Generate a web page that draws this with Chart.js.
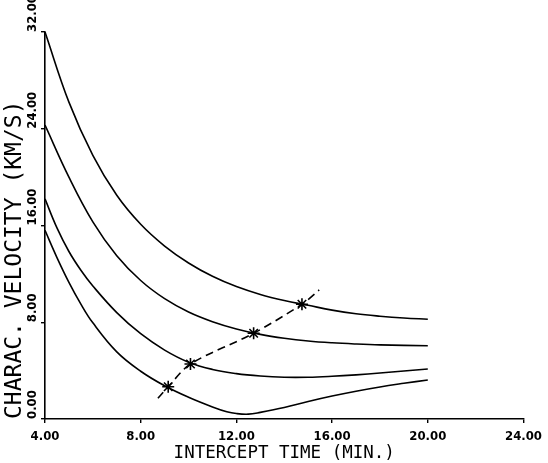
<!DOCTYPE html>
<html>
<head>
<meta charset="utf-8">
<script src="https://cdn.jsdelivr.net/npm/chart.js@4"></script>
<style>
  html, body { margin: 0; padding: 0; background: #fff; }
  #wrap { width: 548px; height: 463px; }
</style>
</head>
<body>
<div id="wrap"><canvas id="chart1"></canvas></div>
<script>
// characteristic velocity vs intercept time, four trajectories
const curve1 = [
    {x: 4, y: 32.0}, {x: 5, y: 26.2}, {x: 6, y: 21.8}, {x: 7, y: 18.5},
    {x: 8, y: 16.1}, {x: 9, y: 14.3}, {x: 10, y: 12.9}, {x: 11, y: 11.8},
    {x: 12, y: 10.95}, {x: 13, y: 10.3}, {x: 14, y: 9.8}, {x: 15, y: 9.4},
    {x: 16, y: 9.0}, {x: 17, y: 8.7}, {x: 18, y: 8.5}, {x: 19, y: 8.35},
    {x: 20, y: 8.25},
];
const curve2 = [
    {x: 4, y: 24.3}, {x: 5, y: 20.0}, {x: 6, y: 16.3}, {x: 7, y: 13.5},
    {x: 8, y: 11.45}, {x: 9, y: 9.95}, {x: 10, y: 8.85}, {x: 11, y: 8.05},
    {x: 12, y: 7.45}, {x: 13, y: 7.0}, {x: 14, y: 6.68}, {x: 15, y: 6.45},
    {x: 16, y: 6.3}, {x: 17, y: 6.2}, {x: 18, y: 6.13}, {x: 20, y: 6.06},
];
const curve3 = [
    {x: 4, y: 18.2}, {x: 4.5, y: 15.8}, {x: 5, y: 13.85}, {x: 5.5, y: 12.3},
    {x: 6, y: 11.0}, {x: 7, y: 8.8}, {x: 8, y: 7.05}, {x: 9, y: 5.7},
    {x: 10, y: 4.7}, {x: 11, y: 4.1}, {x: 12, y: 3.75}, {x: 13, y: 3.55},
    {x: 14, y: 3.45}, {x: 15, y: 3.45}, {x: 16, y: 3.53}, {x: 17, y: 3.65},
    {x: 18, y: 3.8}, {x: 19, y: 3.97}, {x: 20, y: 4.14},
];
const curve4 = [
    {x: 4, y: 15.6}, {x: 4.5, y: 13.35}, {x: 5, y: 11.3}, {x: 5.5, y: 9.5},
    {x: 6, y: 7.95}, {x: 7, y: 5.55}, {x: 8, y: 3.95}, {x: 9, y: 2.75},
    {x: 10, y: 1.8}, {x: 11, y: 1.0}, {x: 11.6, y: 0.6}, {x: 12, y: 0.45},
    {x: 12.5, y: 0.4}, {x: 13, y: 0.55}, {x: 14, y: 0.95}, {x: 15, y: 1.45},
    {x: 16, y: 1.9}, {x: 17, y: 2.3}, {x: 18, y: 2.65}, {x: 19, y: 2.95},
    {x: 20, y: 3.23},
];
// dashed locus through the marked optimum points
const locus = [
    {x: 8.72, y: 1.71}, {x: 9.15, y: 2.67}, {x: 10.08, y: 4.55},
    {x: 12.72, y: 7.09}, {x: 14.74, y: 9.49}, {x: 15.46, y: 10.67},
];
const locusMarked = [false, true, true, true, true, false];

const xTicks = [4, 8, 12, 16, 20, 24];
const yTicks = [0, 8, 16, 24, 32];

const xTitle = 'INTERCEPT TIME (MIN.)';
const yTitle = 'CHARAC. VELOCITY (KM/S)';

const tickFont = "'Liberation Sans Narrow', 'DejaVu Sans Condensed', 'DejaVu Sans', sans-serif";
const titleFont = "'DejaVu Sans Mono', monospace";

function curveSet(data) {
    return {
        data: data,
        borderColor: '#000',
        borderWidth: 1.6,
        pointRadius: 0,
        tension: 0.4,
        fill: false,
    };
}

// y tick labels run bottom-to-top starting at the tick, drawn by hand
const yLabels = {
    id: 'yLabels',
    afterDraw(chart) {
        const c = chart.ctx;
        const ys = chart.scales.y;
        c.save();
        c.font = 'bold 13px ' + tickFont;
        c.fillStyle = '#000';
        c.textAlign = 'left';
        c.textBaseline = 'middle';
        yTicks.forEach(v => {
            const py = ys.getPixelForValue(v);
            c.save();
            c.translate(33, py);
            c.rotate(-Math.PI / 2);
            c.fillText(v.toFixed(2), 0, 0);
            c.restore();
        });
        c.restore();
    }
};

const ctx = document.getElementById('chart1').getContext('2d');

const config = {
    type: 'line',
    data: {
        datasets: [
            curveSet(curve1),
            curveSet(curve2),
            curveSet(curve3),
            curveSet(curve4),
            {
                data: locus,
                borderColor: '#000',
                borderWidth: 1.6,
                borderDash: [8, 5],
                tension: 0.3,
                pointStyle: 'star',
                pointRadius: locusMarked.map(m => m ? 6 : 0),
                pointBorderColor: '#000',
                pointBorderWidth: 1.6,
                fill: false,
            },
        ]
    },
    options: {
        responsive: true,
        maintainAspectRatio: false,
        animation: false,
        layout: {
            padding: {top: 32, right: 23, bottom: 0, left: 0}
        },
        scales: {
            x: {
                type: 'linear',
                min: 4,
                max: 24,
                afterBuildTicks: (s) => { s.ticks = xTicks.map(v => ({value: v})); },
                afterFit: (s) => { s.height = 44; },
                border: {display: true, color: '#000', width: 1.6},
                grid: {drawOnChartArea: false, drawTicks: true, tickLength: 4, color: '#000', lineWidth: 1.4},
                ticks: {
                    color: '#000',
                    padding: 6,
                    maxRotation: 0,
                    font: {family: tickFont, size: 13, weight: 'bold'},
                    callback: (v) => Number(v).toFixed(2),
                },
                title: {
                    display: true,
                    text: xTitle,
                    color: '#000',
                    font: {family: titleFont, size: 17.5, lineHeight: 1},
                    padding: {top: 0, bottom: 1},
                },
            },
            y: {
                type: 'linear',
                min: 0,
                max: 32,
                afterBuildTicks: (s) => { s.ticks = yTicks.map(v => ({value: v})); },
                afterFit: (s) => { s.width = 45; },
                border: {display: true, color: '#000', width: 1.6},
                grid: {drawOnChartArea: false, drawTicks: true, tickLength: 4, color: '#000', lineWidth: 1.4},
                ticks: {display: false},
                title: {
                    display: true,
                    text: yTitle,
                    align: 'start',
                    color: '#000',
                    font: {family: titleFont, size: 23, lineHeight: 1},
                    padding: {top: 4, bottom: 0},
                },
            },
        },
        plugins: {
            legend: {display: false},
            tooltip: {enabled: false},
        }
    },
    plugins: [yLabels],
};

const newChart = new Chart(ctx, config);
</script>
</body>
</html>
